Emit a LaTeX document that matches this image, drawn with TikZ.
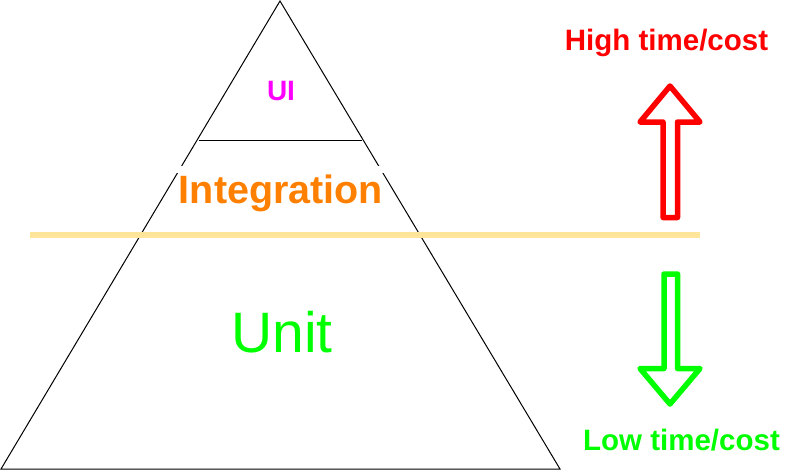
\documentclass[tikz,border=0pt]{standalone}
\usepackage{fontspec}
\setmainfont{Liberation Sans}
\usepackage{xcolor}
\usepackage{tikz}
\usetikzlibrary{positioning}

\definecolor{uimagenta}{HTML}{FF00FF}
\definecolor{intorange}{HTML}{FF8000}
\definecolor{unitgreen}{HTML}{00FF00}
\definecolor{costred}{HTML}{FF0000}
\definecolor{splityellow}{HTML}{FFE599}

\begin{document}
\begin{tikzpicture}[
        x = 1pt, y = -1pt,
        tiertext/.style = {inner sep = 0pt, anchor = base},
        costtext/.style = {inner sep = 0pt, anchor = base, font = \fontsize{29.5}{34}\selectfont\bfseries},
    ]
    \tikzstyle{pyramidline} = [draw=black, line width = 1pt];
    \tikzstyle{blockarrow} = [line width = 5.5pt, line join = round];
    \useasboundingbox (0,0) rectangle (801,472);

    % pyramid
    \coordinate (apex) at (280,1);
    \coordinate (bl) at (1,469);
    \coordinate (br) at (560,469);
    \coordinate (uil) at (199,140);
    \coordinate (uir) at (362,140);
    \draw [pyramidline] (apex) -- (br) -- (bl) -- cycle;
    \draw [pyramidline] (uil) -- (uir);
    \fill [white] (170,166) rectangle (392,173);

    % split line
    \coordinate (splitl) at (30,235);
    \coordinate (splitr) at (700,235);
    \draw [splityellow, line width = 5.5pt] (splitl) -- (splitr);

    % tiers
    \node [tiertext, text = uimagenta, font = \fontsize{28}{32}\selectfont\bfseries] (ui) at (281,100) {UI};
    \node [tiertext, text = intorange, font = \fontsize{39.5}{45}\selectfont\bfseries] (integration) at (281,203) {Integration};
    \node [tiertext, text = unitgreen, font = \fontsize{57}{64}\selectfont] (unit) at (282,352) {Unit};

    % cost arrows
    \draw [blockarrow, costred] (663,217.5) -- (663,122) -- (640,122) -- (670,86)
        -- (700,122) -- (677.5,122) -- (677.5,217.5) -- cycle;
    \draw [blockarrow, unitgreen] (664,274) -- (664,368.5) -- (640,368.5) -- (670,404)
        -- (700,368.5) -- (677.5,368.5) -- (677.5,274) -- cycle;
    \node [costtext, text = costred] (high) at (666.5,50.5) {High time/cost};
    \node [costtext, text = unitgreen] (low) at (681.5,450) {Low time/cost};
\end{tikzpicture}
\end{document}
